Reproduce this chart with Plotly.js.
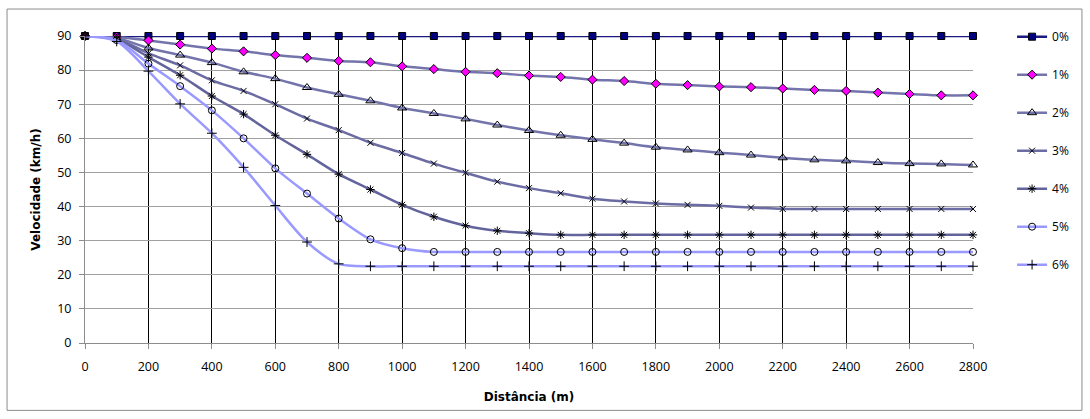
<!DOCTYPE html>
<html>
<head>
<meta charset="utf-8">
<script src="https://cdn.plot.ly/plotly-3.0.1.min.js"></script>
<style>html,body{margin:0;padding:0;background:#fff;}#chart{width:1090px;height:419px;}</style>
</head>
<body>
<div id="chart"></div>
<script>
const distance = [0,100,200,300,400,500,600,700,800,900,1000,1100,1200,1300,1400,1500,1600,1700,1800,1900,2000,2100,2200,2300,2400,2500,2600,2700,2800];
const seriesNames = ["0%","1%","2%","3%","4%","5%","6%"];
const v0 = [90,90,90,90,90,90,90,90,90,90,90,90,90,90,90,90,90,90,90,90,90,90,90,90,90,90,90,90,90];
const v1 = [90,89.7,88.7,87.5,86.3,85.5,84.4,83.6,82.7,82.3,81.1,80.3,79.5,79.1,78.4,78.0,77.2,76.8,76.0,75.6,75.2,75.0,74.6,74.2,73.9,73.4,73.0,72.6,72.6];
const v2 = [90,89.4,86.5,84.4,82.2,79.5,77.5,74.9,72.9,71.0,68.9,67.3,65.7,63.9,62.3,60.9,59.7,58.6,57.4,56.6,55.8,55.1,54.3,53.7,53.4,52.9,52.6,52.5,52.2];
const v3 = [90,89.2,84.9,81.4,77.0,73.9,70.0,65.8,62.4,58.7,55.7,52.6,49.9,47.3,45.4,43.9,42.3,41.5,40.9,40.5,40.2,39.7,39.3,39.3,39.3,39.3,39.3,39.3,39.3];
const v4 = [90,89.0,83.8,78.5,72.4,67.1,60.9,55.3,49.5,45.0,40.5,37.0,34.4,32.9,32.2,31.7,31.7,31.7,31.7,31.7,31.7,31.7,31.7,31.7,31.7,31.7,31.7,31.7,31.7];
const v5 = [90,88.8,81.9,75.3,68.2,60.0,51.2,43.8,36.5,30.4,27.8,26.7,26.7,26.7,26.7,26.7,26.7,26.7,26.7,26.7,26.7,26.7,26.7,26.7,26.7,26.7,26.7,26.7,26.7];
const v6 = [90,88.4,79.7,70.1,61.5,51.5,40.3,29.6,23.2,22.5,22.5,22.5,22.5,22.5,22.5,22.5,22.5,22.5,22.5,22.5,22.5,22.5,22.5,22.5,22.5,22.5,22.5,22.5,22.5];
const values = [v0,v1,v2,v3,v4,v5,v6];

const lineColors = ["#1a1a80","#7474ac","#7474ac","#6c6ca4","#64649c","#9999ff","#9999ff"];
const markerSymbols = ["square","diamond","triangle-up-open","x-thin-open","asterisk-open","circle-open","cross-thin-open"];
const markerFills = ["#000080","#ff00ff","#000000","#000000","#000000","#000000","#000000"];
const markerSizes = [7,7,8,6,7,7,7];

const traces = seriesNames.map((name, i) => ({
  type: "scatter",
  mode: "lines+markers",
  name: name,
  legendgroup: "g" + i,
  cliponaxis: false,
  x: distance,
  y: values[i],
  line: {color: lineColors[i], width: 2.5, shape: "spline", smoothing: 0.8},
  marker: {
    symbol: markerSymbols[i],
    size: markerSizes[i],
    color: markerFills[i],
    line: {color: "#000000", width: 1}
  }
}));

const fontFamily = "'Open Sans', 'Liberation Sans', Arial, sans-serif";

const layout = {
  width: 1090,
  height: 419,
  paper_bgcolor: "#ffffff",
  plot_bgcolor: "#ffffff",
  margin: {l: 85, r: 117, t: 36, b: 76, pad: 0},
  font: {family: fontFamily, size: 12, color: "#000000"},
  showlegend: true,
  legend: {
    x: 1.044, y: 1.045, xanchor: "left", yanchor: "top",
    traceorder: "grouped",
    tracegroupgap: 19,
    maxheight: 400,
    font: {family: fontFamily, size: 12, color: "#000"},
    bgcolor: "rgba(0,0,0,0)"
  },
  xaxis: {
    range: [0, 2800],
    tick0: 0, dtick: 200,
    showgrid: true, gridcolor: "#000000", gridwidth: 1,
    zeroline: false,
    showline: true, linecolor: "#8c8c8c", linewidth: 1,
    ticks: "outside", ticklen: 5, tickcolor: "#8c8c8c",
    ticklabelstandoff: 7,
    tickfont: {family: fontFamily, size: 12.5, color: "#000"},
    title: {text: "Distância (m)", font: {family: "'DejaVu Sans', sans-serif", size: 12, weight: "bold", color: "#000"}, standoff: 18}
  },
  yaxis: {
    range: [0, 90],
    tick0: 0, dtick: 10,
    showgrid: true, gridcolor: "#a0a0a0", gridwidth: 1,
    zeroline: false,
    showline: true, linecolor: "#8c8c8c", linewidth: 1,
    ticks: "outside", ticklen: 5, tickcolor: "#8c8c8c",
    ticklabelstandoff: 5,
    tickfont: {family: fontFamily, size: 12.5, color: "#000"},
    title: {text: "Velocidade (km/h)", font: {family: "'DejaVu Sans', sans-serif", size: 12, weight: "bold", color: "#000"}, standoff: 14}
  },
  shapes: [{
    type: "rect", xref: "paper", yref: "paper",
    x0: -0.0878, x1: 1.1227, y0: -0.2195, y1: 1.0878,
    line: {color: "#8c8c8c", width: 1}, fillcolor: "rgba(0,0,0,0)", layer: "below"
  }]
};

Plotly.newPlot("chart", traces, layout, {staticPlot: true, displayModeBar: false});
</script>
</body>
</html>
